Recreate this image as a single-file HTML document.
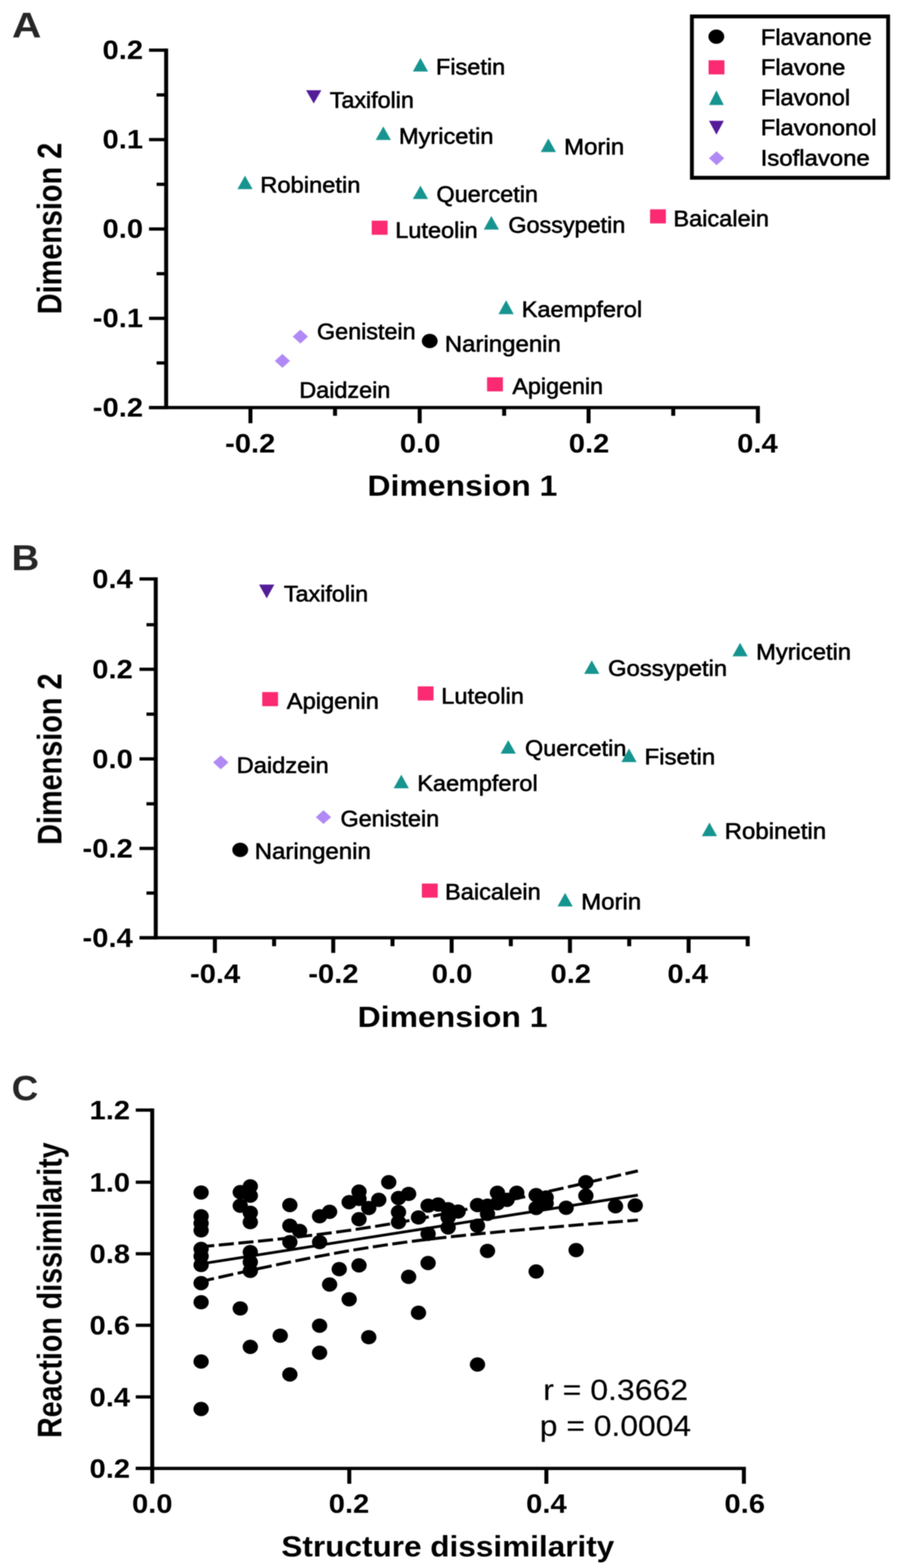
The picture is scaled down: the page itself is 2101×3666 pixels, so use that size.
<!DOCTYPE html>
<html lang="en"><head><meta charset="utf-8"><title>Figure</title>
<style>
html,body{margin:0;padding:0;background:#fff;}
body{width:2101px;height:3666px;overflow:hidden;}
svg{display:block;font-family:"Liberation Sans",sans-serif;}
text{white-space:pre;}
</style></head>
<body>
<svg width="2101" height="3666" viewBox="0 0 2101 3666">
<defs><filter id="bl" x="0" y="0" width="2101" height="3666" filterUnits="userSpaceOnUse"><feGaussianBlur stdDeviation="1.2"/></filter></defs><rect x="0" y="0" width="2101" height="3666" fill="#fff"/>
<g filter="url(#bl)">
<rect x="383.65" y="113.5" width="9.3" height="843.2" fill="#000"/>
<rect x="348.3" y="949.10" width="1427.6" height="7.6" fill="#000"/>
<rect x="348.3" y="113.50" width="40.0" height="7.6" fill="#000"/>
<rect x="348.3" y="322.60" width="40.0" height="7.6" fill="#000"/>
<rect x="348.3" y="531.60" width="40.0" height="7.6" fill="#000"/>
<rect x="348.3" y="740.50" width="40.0" height="7.6" fill="#000"/>
<rect x="348.3" y="949.10" width="40.0" height="7.6" fill="#000"/>
<rect x="366.0" y="218.10" width="22.3" height="7.6" fill="#000"/>
<rect x="366.0" y="427.10" width="22.3" height="7.6" fill="#000"/>
<rect x="366.0" y="636.10" width="22.3" height="7.6" fill="#000"/>
<rect x="366.0" y="844.80" width="22.3" height="7.6" fill="#000"/>
<rect x="580.65" y="952.9" width="9.3" height="36.6" fill="#000"/>
<rect x="976.15" y="952.9" width="9.3" height="36.6" fill="#000"/>
<rect x="1370.85" y="952.9" width="9.3" height="36.6" fill="#000"/>
<rect x="1766.55" y="952.9" width="9.3" height="36.6" fill="#000"/>
<rect x="778.35" y="952.9" width="9.3" height="19.2" fill="#000"/>
<rect x="1173.55" y="952.9" width="9.3" height="19.2" fill="#000"/>
<rect x="1568.75" y="952.9" width="9.3" height="19.2" fill="#000"/>
<text transform="translate(239.56 137.93) scale(1.0890 1)" font-size="62.6" font-weight="bold" fill="#000">0.2</text>
<text transform="translate(239.56 347.03) scale(1.0890 1)" font-size="62.6" font-weight="bold" fill="#000">0.1</text>
<text transform="translate(239.56 556.03) scale(1.0890 1)" font-size="62.6" font-weight="bold" fill="#000">0.0</text>
<text transform="translate(216.85 764.93) scale(1.0890 1)" font-size="62.6" font-weight="bold" fill="#000">-0.1</text>
<text transform="translate(216.85 973.53) scale(1.0890 1)" font-size="62.6" font-weight="bold" fill="#000">-0.2</text>
<text transform="translate(525.99 1057.83) scale(1.0890 1)" font-size="62.6" font-weight="bold" fill="#000">-0.2</text>
<text transform="translate(934.62 1057.83) scale(1.0890 1)" font-size="62.6" font-weight="bold" fill="#000">0.0</text>
<text transform="translate(1329.22 1057.83) scale(1.0890 1)" font-size="62.6" font-weight="bold" fill="#000">0.2</text>
<text transform="translate(1722.83 1057.83) scale(1.0890 1)" font-size="62.6" font-weight="bold" fill="#000">0.4</text>
<text transform="translate(858.76 1159.30) scale(1.0789 1)" font-size="69.2" font-weight="bold" fill="#000">Dimension 1</text>
<text transform="translate(143.40 734.75) rotate(-90) scale(0.9746 1.1500)" font-size="69.2" font-weight="bold" fill="#000">Dimension 2</text>
<text transform="translate(27.92 87.60) scale(1.1318 1)" font-size="84.0" font-weight="bold" fill="#262626">A</text>
<polygon points="982.6,135.6 964.8,167.3 1000.4,167.3" fill="#18948f"/>
<polygon points="895.8,295.7 878.0,327.3 913.5,327.3" fill="#18948f"/>
<polygon points="1281.5,323.8 1263.8,355.4 1299.3,355.4" fill="#18948f"/>
<polygon points="572.6,410.7 554.9,442.3 590.4,442.3" fill="#18948f"/>
<polygon points="982.6,434.0 964.8,465.3 1000.4,465.3" fill="#18948f"/>
<polygon points="1148.3,505.1 1130.5,536.8 1166.1,536.8" fill="#18948f"/>
<polygon points="1182.8,702.1 1165.0,734.4 1200.6,734.4" fill="#18948f"/>
<polygon points="715.4,211.0 751.0,211.0 733.2,241.9" fill="#521a98"/>
<rect x="868.7" y="515.9" width="37.0" height="33.0" fill="#fb2a72"/>
<rect x="1519.2" y="489.4" width="37.0" height="33.0" fill="#fb2a72"/>
<rect x="1138.3" y="882.1" width="37.0" height="33.0" fill="#fb2a72"/>
<polygon points="702.0,770.8 719.9,787.0 702.0,803.2 684.1,787.0" fill="#b189f4"/>
<polygon points="660.0,827.5 677.9,843.7 660.0,859.9 642.1,843.7" fill="#b189f4"/>
<ellipse cx="1004.3" cy="797.3" rx="18.5" ry="16.7" fill="#000"/>
<text transform="translate(1018.87 173.70) scale(1.0607 1)" font-size="51.8" stroke="#000" stroke-width="1.3" fill="#000">Fisetin</text>
<text transform="translate(770.68 251.50) scale(1.0504 1)" font-size="51.8" stroke="#000" stroke-width="1.3" fill="#000">Taxifolin</text>
<text transform="translate(932.14 336.20) scale(1.0668 1)" font-size="51.8" stroke="#000" stroke-width="1.3" fill="#000">Myricetin</text>
<text transform="translate(1318.27 360.90) scale(1.0840 1)" font-size="51.8" stroke="#000" stroke-width="1.3" fill="#000">Morin</text>
<text transform="translate(608.33 450.20) scale(1.0691 1)" font-size="51.8" stroke="#000" stroke-width="1.3" fill="#000">Robinetin</text>
<text transform="translate(1020.10 471.80) scale(1.0561 1)" font-size="51.8" stroke="#000" stroke-width="1.3" fill="#000">Quercetin</text>
<text transform="translate(923.66 555.90) scale(1.0622 1)" font-size="51.8" stroke="#000" stroke-width="1.3" fill="#000">Luteolin</text>
<text transform="translate(1187.97 543.90) scale(1.0550 1)" font-size="51.8" stroke="#000" stroke-width="1.3" fill="#000">Gossypetin</text>
<text transform="translate(1573.66 528.50) scale(1.0635 1)" font-size="51.8" stroke="#000" stroke-width="1.3" fill="#000">Baicalein</text>
<text transform="translate(1219.26 740.90) scale(1.0627 1)" font-size="51.8" stroke="#000" stroke-width="1.3" fill="#000">Kaempferol</text>
<text transform="translate(740.87 793.40) scale(1.0533 1)" font-size="51.8" stroke="#000" stroke-width="1.3" fill="#000">Genistein</text>
<text transform="translate(1039.57 821.60) scale(1.0827 1)" font-size="51.8" stroke="#000" stroke-width="1.3" fill="#000">Naringenin</text>
<text transform="translate(699.59 929.80) scale(1.0549 1)" font-size="51.8" stroke="#000" stroke-width="1.3" fill="#000">Daidzein</text>
<text transform="translate(1197.56 921.20) scale(1.0500 1)" font-size="51.8" stroke="#000" stroke-width="1.3" fill="#000">Apigenin</text>
<rect x="1617" y="38.4" width="458.6" height="377.2" fill="none" stroke="#000" stroke-width="9"/>
<ellipse cx="1674.1" cy="85.7" rx="18.5" ry="16.7" fill="#000"/>
<rect x="1656.0" y="140.9" width="37.0" height="33.0" fill="#fb2a72"/>
<polygon points="1674.3,211.4 1657.0,245.5 1691.6,245.5" fill="#18948f"/>
<polygon points="1657.0,282.6 1691.6,282.6 1674.3,314.8" fill="#521a98"/>
<polygon points="1674.7,353.8 1692.6,370.0 1674.7,386.2 1656.8,370.0" fill="#b189f4"/>
<text transform="translate(1778.02 104.70) scale(1.0717 1)" font-size="51.8" stroke="#000" stroke-width="1.3" fill="#000">Flavanone</text>
<text transform="translate(1778.01 174.50) scale(1.0731 1)" font-size="51.8" stroke="#000" stroke-width="1.3" fill="#000">Flavone</text>
<text transform="translate(1778.04 246.00) scale(1.0663 1)" font-size="51.8" stroke="#000" stroke-width="1.3" fill="#000">Flavonol</text>
<text transform="translate(1778.04 316.20) scale(1.0681 1)" font-size="51.8" stroke="#000" stroke-width="1.3" fill="#000">Flavononol</text>
<text transform="translate(1777.63 386.90) scale(1.0800 1)" font-size="51.8" stroke="#000" stroke-width="1.3" fill="#000">Isoflavone</text>
<rect x="359.35" y="1349.8" width="9.3" height="846.5" fill="#000"/>
<rect x="326.0" y="2188.70" width="1426.1" height="7.6" fill="#000"/>
<rect x="326.0" y="1349.80" width="38.0" height="7.6" fill="#000"/>
<rect x="326.0" y="1561.00" width="38.0" height="7.6" fill="#000"/>
<rect x="326.0" y="1770.50" width="38.0" height="7.6" fill="#000"/>
<rect x="326.0" y="1979.80" width="38.0" height="7.6" fill="#000"/>
<rect x="326.0" y="2188.70" width="38.0" height="7.6" fill="#000"/>
<rect x="342.3" y="1456.80" width="21.7" height="7.6" fill="#000"/>
<rect x="342.3" y="1665.90" width="21.7" height="7.6" fill="#000"/>
<rect x="342.3" y="1875.50" width="21.7" height="7.6" fill="#000"/>
<rect x="342.3" y="2084.20" width="21.7" height="7.6" fill="#000"/>
<rect x="497.55" y="2192.5" width="9.3" height="35.4" fill="#000"/>
<rect x="774.15" y="2192.5" width="9.3" height="35.4" fill="#000"/>
<rect x="1050.85" y="2192.5" width="9.3" height="35.4" fill="#000"/>
<rect x="1327.35" y="2192.5" width="9.3" height="35.4" fill="#000"/>
<rect x="1604.65" y="2192.5" width="9.3" height="35.4" fill="#000"/>
<rect x="635.95" y="2192.5" width="9.3" height="19.8" fill="#000"/>
<rect x="912.65" y="2192.5" width="9.3" height="19.8" fill="#000"/>
<rect x="1189.15" y="2192.5" width="9.3" height="19.8" fill="#000"/>
<rect x="1465.85" y="2192.5" width="9.3" height="19.8" fill="#000"/>
<rect x="1742.75" y="2192.5" width="9.3" height="19.8" fill="#000"/>
<text transform="translate(215.56 1375.13) scale(1.0890 1)" font-size="62.6" font-weight="bold" fill="#000">0.4</text>
<text transform="translate(215.56 1586.33) scale(1.0890 1)" font-size="62.6" font-weight="bold" fill="#000">0.2</text>
<text transform="translate(215.56 1795.83) scale(1.0890 1)" font-size="62.6" font-weight="bold" fill="#000">0.0</text>
<text transform="translate(192.85 2005.13) scale(1.0890 1)" font-size="62.6" font-weight="bold" fill="#000">-0.2</text>
<text transform="translate(192.85 2214.03) scale(1.0890 1)" font-size="62.6" font-weight="bold" fill="#000">-0.4</text>
<text transform="translate(443.99 2297.53) scale(1.0890 1)" font-size="62.6" font-weight="bold" fill="#000">-0.4</text>
<text transform="translate(720.39 2297.53) scale(1.0890 1)" font-size="62.6" font-weight="bold" fill="#000">-0.2</text>
<text transform="translate(1009.12 2297.53) scale(1.0890 1)" font-size="62.6" font-weight="bold" fill="#000">0.0</text>
<text transform="translate(1286.52 2297.53) scale(1.0890 1)" font-size="62.6" font-weight="bold" fill="#000">0.2</text>
<text transform="translate(1559.83 2297.53) scale(1.0890 1)" font-size="62.6" font-weight="bold" fill="#000">0.4</text>
<text transform="translate(835.76 2400.60) scale(1.0789 1)" font-size="69.2" font-weight="bold" fill="#000">Dimension 1</text>
<text transform="translate(143.60 1975.35) rotate(-90) scale(0.9741 1.1500)" font-size="69.2" font-weight="bold" fill="#000">Dimension 2</text>
<text transform="translate(26.95 1332.80) scale(1.0675 1)" font-size="84.0" font-weight="bold" fill="#262626">B</text>
<polygon points="605.5,1366.7 641.1,1366.7 623.3,1398.9" fill="#521a98"/>
<rect x="612.8" y="1618.1" width="37.0" height="33.0" fill="#fb2a72"/>
<rect x="976.2" y="1604.7" width="37.0" height="33.0" fill="#fb2a72"/>
<rect x="985.9" y="2065.7" width="37.0" height="33.0" fill="#fb2a72"/>
<polygon points="516.0,1766.3 533.9,1782.5 516.0,1798.7 498.1,1782.5" fill="#b189f4"/>
<polygon points="756.0,1894.2 773.9,1910.4 756.0,1926.6 738.1,1910.4" fill="#b189f4"/>
<ellipse cx="561.4" cy="1987.0" rx="18.5" ry="16.7" fill="#000"/>
<polygon points="937.8,1811.2 920.0,1842.9 955.5,1842.9" fill="#18948f"/>
<polygon points="1383.0,1543.9 1365.2,1575.6 1400.8,1575.6" fill="#18948f"/>
<polygon points="1729.6,1503.0 1711.8,1534.6 1747.4,1534.6" fill="#18948f"/>
<polygon points="1187.8,1730.4 1170.0,1762.1 1205.5,1762.1" fill="#18948f"/>
<polygon points="1470.0,1750.1 1452.2,1781.8 1487.8,1781.8" fill="#18948f"/>
<polygon points="1658.0,1923.2 1640.2,1954.9 1675.8,1954.9" fill="#18948f"/>
<polygon points="1320.7,2087.6 1302.9,2119.3 1338.5,2119.3" fill="#18948f"/>
<text transform="translate(663.57 1405.70) scale(1.0521 1)" font-size="51.8" stroke="#000" stroke-width="1.3" fill="#000">Taxifolin</text>
<text transform="translate(670.36 1656.60) scale(1.0676 1)" font-size="51.8" stroke="#000" stroke-width="1.3" fill="#000">Apigenin</text>
<text transform="translate(1031.35 1645.10) scale(1.0639 1)" font-size="51.8" stroke="#000" stroke-width="1.3" fill="#000">Luteolin</text>
<text transform="translate(553.04 1806.60) scale(1.0678 1)" font-size="51.8" stroke="#000" stroke-width="1.3" fill="#000">Daidzein</text>
<text transform="translate(975.16 1848.90) scale(1.0627 1)" font-size="51.8" stroke="#000" stroke-width="1.3" fill="#000">Kaempferol</text>
<text transform="translate(795.67 1932.10) scale(1.0542 1)" font-size="51.8" stroke="#000" stroke-width="1.3" fill="#000">Genistein</text>
<text transform="translate(595.27 2007.60) scale(1.0840 1)" font-size="51.8" stroke="#000" stroke-width="1.3" fill="#000">Naringenin</text>
<text transform="translate(1040.05 2102.80) scale(1.0645 1)" font-size="51.8" stroke="#000" stroke-width="1.3" fill="#000">Baicalein</text>
<text transform="translate(1421.12 1580.20) scale(1.0736 1)" font-size="51.8" stroke="#000" stroke-width="1.3" fill="#000">Gossypetin</text>
<text transform="translate(1766.92 1541.70) scale(1.0714 1)" font-size="51.8" stroke="#000" stroke-width="1.3" fill="#000">Myricetin</text>
<text transform="translate(1227.11 1766.70) scale(1.0538 1)" font-size="51.8" stroke="#000" stroke-width="1.3" fill="#000">Quercetin</text>
<text transform="translate(1506.28 1787.40) scale(1.0820 1)" font-size="51.8" stroke="#000" stroke-width="1.3" fill="#000">Fisetin</text>
<text transform="translate(1693.57 1961.00) scale(1.0837 1)" font-size="51.8" stroke="#000" stroke-width="1.3" fill="#000">Robinetin</text>
<text transform="translate(1358.17 2125.90) scale(1.0840 1)" font-size="51.8" stroke="#000" stroke-width="1.3" fill="#000">Morin</text>
<rect x="351.15" y="2591.6" width="9.3" height="877.1" fill="#000"/>
<rect x="317.3" y="3429.40" width="1425.9" height="7.6" fill="#000"/>
<rect x="317.3" y="2591.60" width="38.5" height="7.6" fill="#000"/>
<rect x="317.3" y="2760.20" width="38.5" height="7.6" fill="#000"/>
<rect x="317.3" y="2927.50" width="38.5" height="7.6" fill="#000"/>
<rect x="317.3" y="3094.70" width="38.5" height="7.6" fill="#000"/>
<rect x="317.3" y="3262.20" width="38.5" height="7.6" fill="#000"/>
<rect x="317.3" y="3429.40" width="38.5" height="7.6" fill="#000"/>
<rect x="811.65" y="3433.2" width="9.3" height="35.8" fill="#000"/>
<rect x="1272.25" y="3433.2" width="9.3" height="35.8" fill="#000"/>
<rect x="1733.85" y="3433.2" width="9.3" height="35.8" fill="#000"/>
<text transform="translate(209.26 2617.13) scale(1.0890 1)" font-size="62.6" font-weight="bold" fill="#000">1.2</text>
<text transform="translate(209.26 2785.73) scale(1.0890 1)" font-size="62.6" font-weight="bold" fill="#000">1.0</text>
<text transform="translate(209.26 2953.03) scale(1.0890 1)" font-size="62.6" font-weight="bold" fill="#000">0.8</text>
<text transform="translate(209.26 3120.23) scale(1.0890 1)" font-size="62.6" font-weight="bold" fill="#000">0.6</text>
<text transform="translate(209.26 3287.73) scale(1.0890 1)" font-size="62.6" font-weight="bold" fill="#000">0.4</text>
<text transform="translate(209.26 3454.93) scale(1.0890 1)" font-size="62.6" font-weight="bold" fill="#000">0.2</text>
<text transform="translate(308.42 3537.43) scale(1.0890 1)" font-size="62.6" font-weight="bold" fill="#000">0.0</text>
<text transform="translate(768.22 3537.43) scale(1.0890 1)" font-size="62.6" font-weight="bold" fill="#000">0.2</text>
<text transform="translate(1229.53 3537.43) scale(1.0890 1)" font-size="62.6" font-weight="bold" fill="#000">0.4</text>
<text transform="translate(1693.05 3537.43) scale(1.0890 1)" font-size="62.6" font-weight="bold" fill="#000">0.6</text>
<text transform="translate(657.59 3639.30) scale(1.0649 1)" font-size="69.2" font-weight="bold" fill="#000">Structure dissimilarity</text>
<text transform="translate(143.50 3361.91) rotate(-90) scale(0.9661 1.1500)" font-size="69.2" font-weight="bold" fill="#000">Reaction dissimilarity</text>
<text transform="translate(27.16 2571.80) scale(1.0644 1)" font-size="80.9" font-weight="bold" fill="#262626">C</text>
<text transform="translate(1269.45 3273.40) scale(1.1024 1)" font-size="67.8" stroke="#000" stroke-width="0.3" fill="#000">r = 0.3662</text>
<text transform="translate(1261.57 3356.60) scale(1.0970 1)" font-size="67.8" stroke="#000" stroke-width="0.3" fill="#000">p = 0.0004</text>
<polyline points="470.0,2914.7 487.0,2913.2 504.0,2911.6 521.0,2910.0 538.0,2908.4 555.1,2906.8 572.1,2905.1 589.1,2903.5 606.1,2901.7 623.1,2900.0 640.1,2898.2 657.1,2896.4 674.1,2894.5 691.2,2892.6 708.2,2890.6 725.2,2888.6 742.2,2886.5 759.2,2884.3 776.2,2882.1 793.2,2879.8 810.2,2877.4 827.2,2875.0 844.3,2872.4 861.3,2869.8 878.3,2867.1 895.3,2864.3 912.3,2861.5 929.3,2858.5 946.3,2855.5 963.3,2852.4 980.4,2849.2 997.4,2846.0 1014.4,2842.7 1031.4,2839.3 1048.4,2835.9 1065.4,2832.5 1082.4,2829.0 1099.4,2825.4 1116.4,2821.8 1133.5,2818.2 1150.5,2814.5 1167.5,2810.9 1184.5,2807.1 1201.5,2803.4 1218.5,2799.6 1235.5,2795.9 1252.5,2792.1 1269.5,2788.2 1286.6,2784.4 1303.6,2780.6 1320.6,2776.7 1337.6,2772.8 1354.6,2769.0 1371.6,2765.1 1388.6,2761.1 1405.6,2757.2 1422.7,2753.3 1439.7,2749.4 1456.7,2745.4 1473.7,2741.5 1490.7,2737.5" fill="none" stroke="#000" stroke-width="7" stroke-dasharray="35.4 10.6" stroke-dashoffset="4.5"/>
<polyline points="470.0,2996.0 487.0,2992.2 504.0,2988.3 521.0,2984.5 538.0,2980.7 555.1,2976.9 572.1,2973.2 589.1,2969.4 606.1,2965.7 623.1,2962.1 640.1,2958.5 657.1,2954.9 674.1,2951.4 691.2,2947.9 708.2,2944.5 725.2,2941.1 742.2,2937.8 759.2,2934.6 776.2,2931.4 793.2,2928.3 810.2,2925.3 827.2,2922.4 844.3,2919.6 861.3,2916.8 878.3,2914.2 895.3,2911.6 912.3,2909.1 929.3,2906.7 946.3,2904.4 963.3,2902.2 980.4,2900.0 997.4,2898.0 1014.4,2896.0 1031.4,2894.0 1048.4,2892.1 1065.4,2890.3 1082.4,2888.5 1099.4,2886.7 1116.4,2885.0 1133.5,2883.3 1150.5,2881.7 1167.5,2880.0 1184.5,2878.5 1201.5,2876.9 1218.5,2875.4 1235.5,2873.8 1252.5,2872.3 1269.5,2870.8 1286.6,2869.4 1303.6,2867.9 1320.6,2866.5 1337.6,2865.1 1354.6,2863.6 1371.6,2862.2 1388.6,2860.8 1405.6,2859.5 1422.7,2858.1 1439.7,2856.7 1456.7,2855.3 1473.7,2854.0 1490.7,2852.6" fill="none" stroke="#000" stroke-width="7" stroke-dasharray="35.4 10.6" stroke-dashoffset="4.5"/>
<line x1="470" y1="2954.9" x2="1490.7" y2="2794.2" stroke="#000" stroke-width="6.5"/>
<ellipse cx="470.0" cy="2788.1" rx="17.9" ry="16.7" fill="#000"/>
<ellipse cx="470.0" cy="2843.6" rx="17.9" ry="16.7" fill="#000"/>
<ellipse cx="470.0" cy="2860.1" rx="17.9" ry="16.7" fill="#000"/>
<ellipse cx="470.0" cy="2876.6" rx="17.9" ry="16.7" fill="#000"/>
<ellipse cx="470.0" cy="2920.0" rx="17.9" ry="16.7" fill="#000"/>
<ellipse cx="470.0" cy="2937.0" rx="17.9" ry="16.7" fill="#000"/>
<ellipse cx="470.0" cy="2957.6" rx="17.9" ry="16.7" fill="#000"/>
<ellipse cx="470.0" cy="3000.0" rx="17.9" ry="16.7" fill="#000"/>
<ellipse cx="470.0" cy="3044.6" rx="17.9" ry="16.7" fill="#000"/>
<ellipse cx="470.0" cy="3183.3" rx="17.9" ry="16.7" fill="#000"/>
<ellipse cx="470.0" cy="3294.2" rx="17.9" ry="16.7" fill="#000"/>
<ellipse cx="561.5" cy="2787.3" rx="17.9" ry="16.7" fill="#000"/>
<ellipse cx="561.5" cy="2819.0" rx="17.9" ry="16.7" fill="#000"/>
<ellipse cx="561.5" cy="3059.1" rx="17.9" ry="16.7" fill="#000"/>
<ellipse cx="585.0" cy="2773.6" rx="17.9" ry="16.7" fill="#000"/>
<ellipse cx="585.0" cy="2795.5" rx="17.9" ry="16.7" fill="#000"/>
<ellipse cx="585.0" cy="2835.4" rx="17.9" ry="16.7" fill="#000"/>
<ellipse cx="585.0" cy="2857.4" rx="17.9" ry="16.7" fill="#000"/>
<ellipse cx="585.0" cy="2927.4" rx="17.9" ry="16.7" fill="#000"/>
<ellipse cx="585.0" cy="2950.8" rx="17.9" ry="16.7" fill="#000"/>
<ellipse cx="585.0" cy="2971.4" rx="17.9" ry="16.7" fill="#000"/>
<ellipse cx="585.0" cy="3149.0" rx="17.9" ry="16.7" fill="#000"/>
<ellipse cx="654.9" cy="3122.9" rx="17.9" ry="16.7" fill="#000"/>
<ellipse cx="677.4" cy="2817.5" rx="17.9" ry="16.7" fill="#000"/>
<ellipse cx="677.4" cy="2865.6" rx="17.9" ry="16.7" fill="#000"/>
<ellipse cx="677.4" cy="2904.1" rx="17.9" ry="16.7" fill="#000"/>
<ellipse cx="677.4" cy="3213.5" rx="17.9" ry="16.7" fill="#000"/>
<ellipse cx="700.2" cy="2878.0" rx="17.9" ry="16.7" fill="#000"/>
<ellipse cx="746.9" cy="2843.6" rx="17.9" ry="16.7" fill="#000"/>
<ellipse cx="746.9" cy="2904.1" rx="17.9" ry="16.7" fill="#000"/>
<ellipse cx="746.9" cy="3099.5" rx="17.9" ry="16.7" fill="#000"/>
<ellipse cx="746.9" cy="3162.7" rx="17.9" ry="16.7" fill="#000"/>
<ellipse cx="770.3" cy="2833.2" rx="17.9" ry="16.7" fill="#000"/>
<ellipse cx="770.3" cy="3003.2" rx="17.9" ry="16.7" fill="#000"/>
<ellipse cx="792.8" cy="2967.3" rx="17.9" ry="16.7" fill="#000"/>
<ellipse cx="816.0" cy="2810.7" rx="17.9" ry="16.7" fill="#000"/>
<ellipse cx="816.0" cy="3037.7" rx="17.9" ry="16.7" fill="#000"/>
<ellipse cx="839.0" cy="2786.0" rx="17.9" ry="16.7" fill="#000"/>
<ellipse cx="839.0" cy="2803.0" rx="17.9" ry="16.7" fill="#000"/>
<ellipse cx="839.0" cy="2850.5" rx="17.9" ry="16.7" fill="#000"/>
<ellipse cx="839.0" cy="2958.5" rx="17.9" ry="16.7" fill="#000"/>
<ellipse cx="861.8" cy="2824.4" rx="17.9" ry="16.7" fill="#000"/>
<ellipse cx="861.8" cy="3126.4" rx="17.9" ry="16.7" fill="#000"/>
<ellipse cx="885.2" cy="2805.2" rx="17.9" ry="16.7" fill="#000"/>
<ellipse cx="908.5" cy="2764.0" rx="17.9" ry="16.7" fill="#000"/>
<ellipse cx="931.3" cy="2801.0" rx="17.9" ry="16.7" fill="#000"/>
<ellipse cx="931.3" cy="2834.0" rx="17.9" ry="16.7" fill="#000"/>
<ellipse cx="931.3" cy="2857.4" rx="17.9" ry="16.7" fill="#000"/>
<ellipse cx="955.0" cy="2791.4" rx="17.9" ry="16.7" fill="#000"/>
<ellipse cx="955.0" cy="2985.3" rx="17.9" ry="16.7" fill="#000"/>
<ellipse cx="978.0" cy="2846.4" rx="17.9" ry="16.7" fill="#000"/>
<ellipse cx="978.0" cy="3069.3" rx="17.9" ry="16.7" fill="#000"/>
<ellipse cx="1000.5" cy="2818.9" rx="17.9" ry="16.7" fill="#000"/>
<ellipse cx="1000.5" cy="2884.8" rx="17.9" ry="16.7" fill="#000"/>
<ellipse cx="1000.5" cy="2953.0" rx="17.9" ry="16.7" fill="#000"/>
<ellipse cx="1023.9" cy="2816.2" rx="17.9" ry="16.7" fill="#000"/>
<ellipse cx="1047.3" cy="2827.1" rx="17.9" ry="16.7" fill="#000"/>
<ellipse cx="1047.3" cy="2846.4" rx="17.9" ry="16.7" fill="#000"/>
<ellipse cx="1047.3" cy="2869.7" rx="17.9" ry="16.7" fill="#000"/>
<ellipse cx="1070.6" cy="2832.6" rx="17.9" ry="16.7" fill="#000"/>
<ellipse cx="1115.9" cy="2817.5" rx="17.9" ry="16.7" fill="#000"/>
<ellipse cx="1115.9" cy="2865.6" rx="17.9" ry="16.7" fill="#000"/>
<ellipse cx="1115.9" cy="3190.2" rx="17.9" ry="16.7" fill="#000"/>
<ellipse cx="1139.3" cy="2819.0" rx="17.9" ry="16.7" fill="#000"/>
<ellipse cx="1139.3" cy="2838.1" rx="17.9" ry="16.7" fill="#000"/>
<ellipse cx="1139.3" cy="2924.7" rx="17.9" ry="16.7" fill="#000"/>
<ellipse cx="1162.5" cy="2788.7" rx="17.9" ry="16.7" fill="#000"/>
<ellipse cx="1162.5" cy="2813.4" rx="17.9" ry="16.7" fill="#000"/>
<ellipse cx="1185.0" cy="2805.2" rx="17.9" ry="16.7" fill="#000"/>
<ellipse cx="1207.7" cy="2788.7" rx="17.9" ry="16.7" fill="#000"/>
<ellipse cx="1253.0" cy="2794.2" rx="17.9" ry="16.7" fill="#000"/>
<ellipse cx="1253.0" cy="2824.4" rx="17.9" ry="16.7" fill="#000"/>
<ellipse cx="1253.0" cy="2972.7" rx="17.9" ry="16.7" fill="#000"/>
<ellipse cx="1276.4" cy="2799.7" rx="17.9" ry="16.7" fill="#000"/>
<ellipse cx="1276.4" cy="2813.4" rx="17.9" ry="16.7" fill="#000"/>
<ellipse cx="1323.1" cy="2823.8" rx="17.9" ry="16.7" fill="#000"/>
<ellipse cx="1346.4" cy="2922.7" rx="17.9" ry="16.7" fill="#000"/>
<ellipse cx="1369.2" cy="2764.0" rx="17.9" ry="16.7" fill="#000"/>
<ellipse cx="1369.2" cy="2795.5" rx="17.9" ry="16.7" fill="#000"/>
<ellipse cx="1438.5" cy="2820.3" rx="17.9" ry="16.7" fill="#000"/>
<ellipse cx="1484.6" cy="2818.4" rx="17.9" ry="16.7" fill="#000"/>
</g>
</svg>
</body></html>
